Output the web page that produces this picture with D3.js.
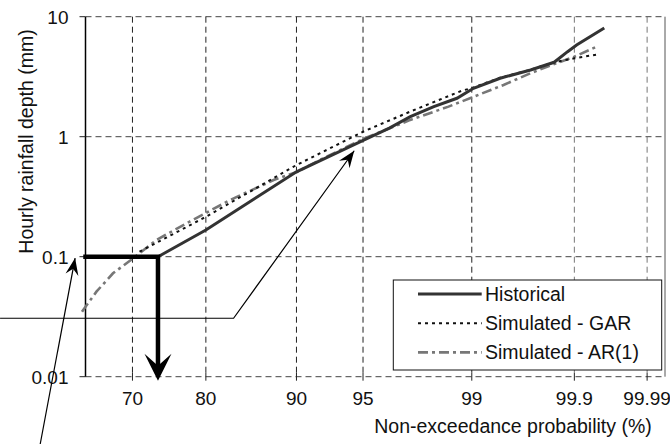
<!DOCTYPE html>
<html>
<head>
<meta charset="utf-8">
<script src="https://cdn.jsdelivr.net/npm/d3@7"></script>
<style>
  body { margin: 0; background: #fff; }
  text { font-family: "Liberation Sans", Arial, sans-serif; fill: #111; }
</style>
</head>
<body>
<div id="chart"></div>
<script>
"use strict";

// non-exceedance probability (%) and hourly depth (mm)
var xTicks = [70, 80, 90, 95, 99, 99.9, 99.99];
var yTicks = [0.01, 0.1, 1, 10];

var historical = [
  [73.6, 0.1], [80.0, 0.167], [90.0, 0.51], [95.07, 0.94],
  [96.4, 1.18], [97.3, 1.47], [98.1, 1.78], [98.7, 2.09], [99.03, 2.53],
  [99.42, 3.07], [99.70, 3.60], [99.83, 4.17], [99.88, 5.11], [99.906, 5.81],
  [99.958, 8.05]
];
var gar = [
  [71.0, 0.11], [80.0, 0.215], [90.0, 0.58], [95.0, 1.10], [97.3, 1.62],
  [98.8, 2.41], [99.03, 2.57], [99.42, 3.1], [99.70, 3.62], [99.83, 4.17],
  [99.90, 4.5], [99.952, 4.89]
];
var ar1 = [
  [62.7, 0.0348], [64.8, 0.0511], [67.2, 0.0727], [70.1, 0.097], [73.4, 0.138],
  [77.9, 0.196], [83.0, 0.297], [87.8, 0.436], [90.1, 0.511], [92.0, 0.64],
  [95.1, 0.97], [97.3, 1.38], [98.5, 1.78], [99.03, 2.15], [99.46, 2.70],
  [99.70, 3.38], [99.83, 4.03], [99.90, 4.64], [99.947, 5.62]
];

var seriesNames = ["Historical", "Simulated - GAR", "Simulated - AR(1)"];

// annotation arrows, in (probability %, mm)
var pointerToCurve = [[51.0, 0.0307], [83.4, 0.0307], [94.46, 0.764]];
var pointerToLabel = [[56.5, 0.00245], [61.7, 0.0975]];

var margin = { top: 16.7, left: 85.5 };
var width = 579.5;
var height = 360;

var styles = [
  { color: "#333", width: 3, dash: null },
  { color: "#111", width: 2, dash: "3,4" },
  { color: "#777", width: 2.6, dash: "10,4,3,4" }
];

// Weibull reduced variate, plotted on a log axis
var reduced = function(p) { return -Math.log(1 - p / 100); };

var x = d3.scaleLog().domain([1, 9.885]).range([0, width]);
var y = d3.scaleLog().domain([0.01, 10]).range([height, 0]);
var px = function(p) { return x(reduced(p)); };

var svg = d3.select("#chart").append("svg")
  .attr("width", 670)
  .attr("height", 444);

var g = svg.append("g")
  .attr("transform", "translate(" + margin.left + "," + margin.top + ")");

// grid
g.selectAll(".hgrid").data(yTicks).enter().append("line")
  .attr("x1", 0).attr("x2", width)
  .attr("y1", function(d) { return y(d); })
  .attr("y2", function(d) { return y(d); })
  .attr("stroke", "#444")
  .attr("stroke-dasharray", "6,4");

g.selectAll(".vgrid").data(xTicks).enter().append("line")
  .attr("x1", function(d) { return px(d); })
  .attr("x2", function(d) { return px(d); })
  .attr("y1", 0).attr("y2", height)
  .attr("stroke", function(d) { return d >= 99.9 ? "#777" : "#222"; })
  .attr("stroke-dasharray", "6,4");

// axes
g.append("line")
  .attr("x1", 0).attr("x2", 0).attr("y1", 0).attr("y2", height)
  .attr("stroke", "#000").attr("stroke-width", 1.5);
g.append("line")
  .attr("x1", width).attr("x2", width).attr("y1", 0).attr("y2", height)
  .attr("stroke", "#555");

g.selectAll(".ytick").data(yTicks).enter().append("line")
  .attr("x1", -6).attr("x2", 0)
  .attr("y1", function(d) { return y(d); })
  .attr("y2", function(d) { return y(d); })
  .attr("stroke", "#222");

g.selectAll(".xtick").data(xTicks).enter().append("line")
  .attr("x1", function(d) { return px(d); })
  .attr("x2", function(d) { return px(d); })
  .attr("y1", height - 4).attr("y2", height + 4)
  .attr("stroke", "#222");

g.selectAll(".ylabel").data(yTicks).enter().append("text")
  .attr("x", -17)
  .attr("y", function(d) { return y(d) + 7; })
  .attr("text-anchor", "end")
  .attr("font-size", 19)
  .text(function(d) { return String(d); });

g.selectAll(".xlabel").data(xTicks).enter().append("text")
  .attr("x", function(d) { return px(d); })
  .attr("y", height + 28.3)
  .attr("text-anchor", "middle")
  .attr("font-size", 19)
  .text(function(d) { return String(d); });

svg.append("text")
  .attr("transform", "translate(33,141.5) rotate(-90)")
  .attr("text-anchor", "middle")
  .attr("font-size", 19.5)
  .text("Hourly rainfall depth (mm)");

svg.append("text")
  .attr("x", 513).attr("y", 433)
  .attr("text-anchor", "middle")
  .attr("font-size", 19.5)
  .text("Non-exceedance probability (%)");

// series
var line = d3.line()
  .x(function(d) { return px(d[0]); })
  .y(function(d) { return y(d[1]); });

[ar1, gar, historical].forEach(function(data) {
  var i = [historical, gar, ar1].indexOf(data);
  g.append("path")
    .datum(data)
    .attr("d", line)
    .attr("fill", "none")
    .attr("stroke", styles[i].color)
    .attr("stroke-width", styles[i].width)
    .attr("stroke-dasharray", styles[i].dash);
});

// arrowhead polygon with a notch, pointing along (dx, dy) at the tip
var arrowHead = function(tip, from, len, half, notch) {
  var dx = tip[0] - from[0], dy = tip[1] - from[1];
  var n = Math.sqrt(dx * dx + dy * dy);
  var ux = dx / n, uy = dy / n;
  var bx = tip[0] - ux * len, by = tip[1] - uy * len;
  return "M" + tip[0] + "," + tip[1] +
    "L" + (bx - uy * half) + "," + (by + ux * half) +
    "L" + (tip[0] - ux * notch) + "," + (tip[1] - uy * notch) +
    "L" + (bx + uy * half) + "," + (by - ux * half) + "Z";
};

// read-off of the 0.1 mm level on the historical curve
var readP = historical[0][0];
var readV = historical[0][1];
var cornerX = px(readP);
var tipThick = [cornerX, height + 4];
g.append("path")
  .attr("d", "M0," + y(readV) + "H" + cornerX + "V" + (height - 12))
  .attr("fill", "none")
  .attr("stroke", "#000")
  .attr("stroke-width", 4.5)
  .attr("stroke-linecap", "square");
g.append("path")
  .attr("d", arrowHead(tipThick, [cornerX, y(readV)], 27, 13.5, 15))
  .attr("fill", "#000");

// thin pointer arrows
[pointerToCurve, pointerToLabel].forEach(function(pts) {
  var xy = pts.map(function(d) { return [px(d[0]), y(d[1])]; });
  g.append("path")
    .attr("d", d3.line()(xy))
    .attr("fill", "none")
    .attr("stroke", "#000")
    .attr("stroke-width", 1.2);
  g.append("path")
    .attr("d", arrowHead(xy[xy.length - 1], xy[xy.length - 2], 17, 6.5, 11))
    .attr("fill", "#000");
});

// legend
var legend = g.append("g").attr("transform", "translate(307.8,263.3)");
legend.append("rect")
  .attr("width", 268.4).attr("height", 90)
  .attr("fill", "#fff").attr("stroke", "#111");
var rows = legend.selectAll(".row").data(seriesNames).enter().append("g")
  .attr("transform", function(d, i) { return "translate(0," + (14 + i * 29.2) + ")"; });
rows.append("line")
  .attr("x1", 24.7).attr("x2", 88.4)
  .attr("stroke", function(d, i) { return styles[i].color; })
  .attr("stroke-width", function(d, i) { return styles[i].width; })
  .attr("stroke-dasharray", function(d, i) { return styles[i].dash; });
rows.append("text")
  .attr("x", 91.7).attr("y", 7)
  .attr("font-size", 19.5)
  .text(function(d) { return d; });
</script>
</body>
</html>
